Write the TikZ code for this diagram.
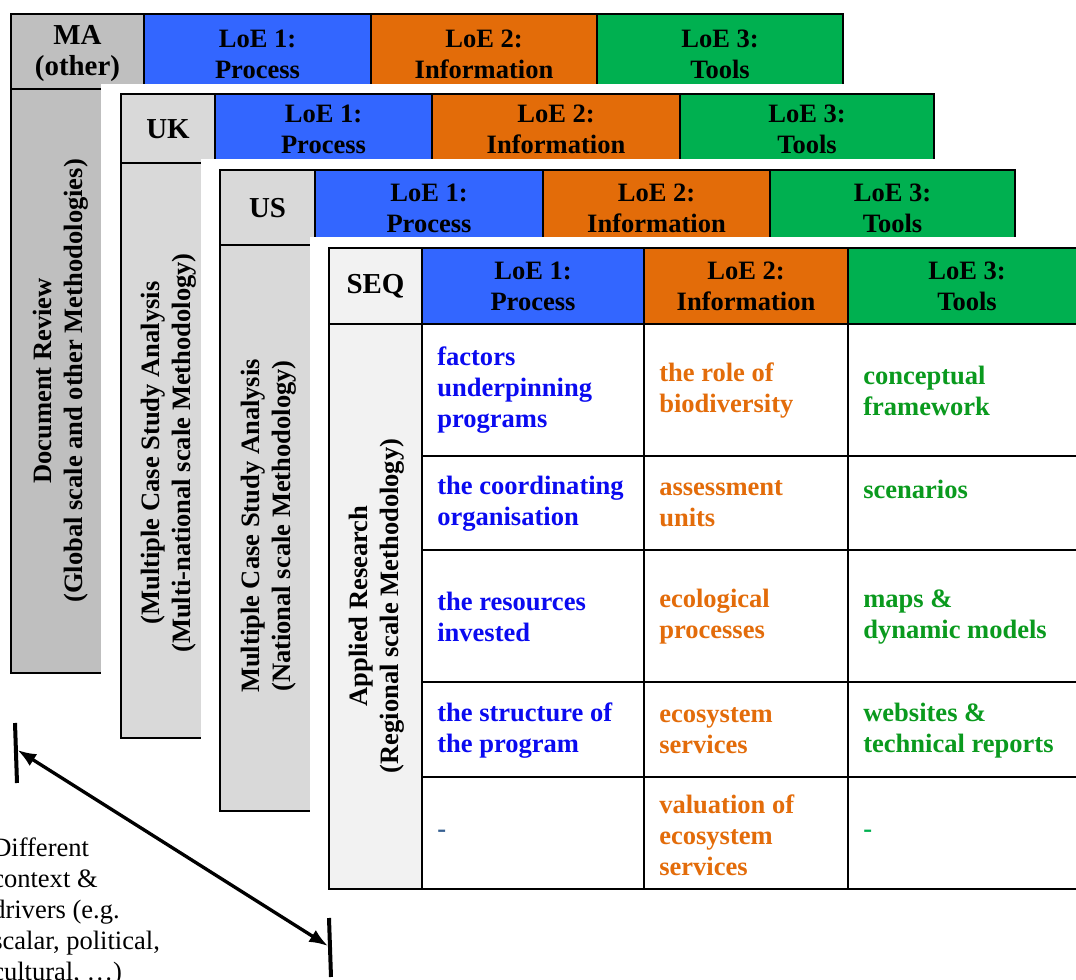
\documentclass[tikz,border=0pt]{standalone}
\usepackage{fontspec}
\setmainfont{Liberation Serif}
\usetikzlibrary{arrows.meta}

\definecolor{hdrblue}{HTML}{3366FF}
\definecolor{hdrorange}{HTML}{E36C09}
\definecolor{hdrgreen}{HTML}{00B050}
\definecolor{grayMA}{HTML}{BFBFBF}
\definecolor{grayMid}{HTML}{D9D9D9}
\definecolor{grayLight}{HTML}{F2F2F2}
\definecolor{txtblue}{HTML}{0A0AF0}
\definecolor{txtorange}{HTML}{E36C0A}
\definecolor{txtgreen}{HTML}{0A9A1E}
\definecolor{dashblue}{HTML}{366092}

\begin{document}
\begin{tikzpicture}[x=0.75pt,y=-0.75pt,
  cell/.style={draw=black, line width=1.5pt},
  backing/.style={fill=white, draw=none},
  lbl/.style={font=\fontsize{19.9pt}{23.25pt}\selectfont\bfseries, align=center, inner sep=0pt},
  key/.style={font=\fontsize{21.7pt}{23.25pt}\selectfont\bfseries, align=center, inner sep=0pt},
  side/.style={lbl, rotate=90},
  entry/.style={font=\fontsize{19.9pt}{23.25pt}\selectfont\bfseries, align=left, inner sep=0pt, anchor=west},
  note/.style={font=\fontsize{19.9pt}{23.25pt}\selectfont, align=left, inner sep=0pt, anchor=west},
  tick/.style={line width=3pt},
  span/.style={line width=2.5pt, {Latex[length=14pt,width=10.5pt]}-{Latex[length=14pt,width=10.5pt]}},
  ]
\useasboundingbox (0,0) rectangle (1076,980);

% ---------- MA (other): global scale ----------
\path[cell, fill=grayMA]    (11,14)  rectangle (144,89);
\path[cell, fill=hdrblue]   (144,14) rectangle (371,89);
\path[cell, fill=hdrorange] (371,14) rectangle (597,89);
\path[cell, fill=hdrgreen]  (597,14) rectangle (843,89);
\path[cell, fill=grayMA]    (11,89)  rectangle (144,673);
\node[key] (maKey) at (77.5,54) {MA\\(other)};
\node[lbl] (maL1) at (257.5,54) {LoE 1:\\Process};
\node[lbl] (maL2) at (484,54) {LoE 2:\\Information};
\node[lbl] (maL3) at (720,54) {LoE 3:\\Tools};
\node[side] (maSide) at (61,381) {Document Review\\(Global scale and other Methodologies)};

% ---------- UK: multi-national scale ----------
\path[backing] (101,84) rectangle (1086,990);
\path[cell, fill=grayMid]   (121,94)  rectangle (215,163);
\path[cell, fill=hdrblue]   (215,94)  rectangle (432,163);
\path[cell, fill=hdrorange] (432,94)  rectangle (680,163);
\path[cell, fill=hdrgreen]  (680,94)  rectangle (934,163);
\path[cell, fill=grayMid]   (121,163) rectangle (215,738);
\node[key] (ukKey) at (168,129) {UK};
\node[lbl] (ukL1) at (323.5,129) {LoE 1:\\Process};
\node[lbl] (ukL2) at (556,129) {LoE 2:\\Information};
\node[lbl] (ukL3) at (807,129) {LoE 3:\\Tools};
\node[side] (ukSide) at (169,453) {(Multiple Case Study Analysis\\(Multi-national scale Methodology)};

% ---------- US: national scale ----------
\path[backing] (201,159) rectangle (1086,990);
\path[cell, fill=grayMid]   (220,170) rectangle (315,245);
\path[cell, fill=hdrblue]   (315,170) rectangle (543,245);
\path[cell, fill=hdrorange] (543,170) rectangle (770,245);
\path[cell, fill=hdrgreen]  (770,170) rectangle (1015,245);
\path[cell, fill=grayMid]   (220,245) rectangle (315,811);
\node[key] (usKey) at (267.5,208) {US};
\node[lbl] (usL1) at (429,208) {LoE 1:\\Process};
\node[lbl] (usL2) at (656.5,208) {LoE 2:\\Information};
\node[lbl] (usL3) at (892.5,208) {LoE 3:\\Tools};
\node[side] (usSide) at (269,526) {Multiple Case Study Analysis\\(National scale Methodology)};

% ---------- SEQ: regional scale ----------
\path[backing] (310,237) rectangle (1086,990);
\path[cell, fill=grayLight] (329,248) rectangle (422,324);
\path[cell, fill=hdrblue]   (422,248) rectangle (644,324);
\path[cell, fill=hdrorange] (644,248) rectangle (848,324);
\path[cell, fill=hdrgreen]  (848,248) rectangle (1090,324);
\path[cell, fill=grayLight] (329,324) rectangle (422,889);
\path[cell] (422,324) rectangle (1090,889);
\foreach \yy in {456,550,682,777} \draw[cell] (422,\yy) -- (1090,\yy);
\foreach \xx in {644,848} \draw[cell] (\xx,324) -- (\xx,889);
\node[key] (seqKey) at (375.5,286) {SEQ};
\node[lbl] (seqL1) at (533,286) {LoE 1:\\Process};
\node[lbl] (seqL2) at (746,286) {LoE 2:\\Information};
\node[lbl] (seqL3) at (967,286) {LoE 3:\\Tools};
\node[side] (seqSide) at (376.5,606) {Applied Research\\(Regional scale Methodology)};

% body: Process column
\node[entry, text=txtblue] (p1) at (437,390) {factors\\underpinning\\programs};
\node[entry, text=txtblue] (p2) at (437,504) {the coordinating\\organisation};
\node[entry, text=txtblue] (p3) at (437,617) {the resources\\invested};
\node[entry, text=txtblue] (p4) at (437,731) {the structure of\\the program};
\node[entry, text=dashblue] (p5) at (437,834) {-};
% body: Information column
\node[entry, text=txtorange] (i1) at (659,391) {the role of\\biodiversity};
\node[entry, text=txtorange] (i2) at (659,504) {assessment\\units};
\node[entry, text=txtorange] (i3) at (659,617) {ecological\\processes};
\node[entry, text=txtorange] (i4) at (659,731) {ecosystem\\services};
\node[entry, text=txtorange] (i5) at (659,835) {valuation of\\ecosystem\\services};
% body: Tools column
\node[entry, text=txtgreen] (t1) at (863,391) {conceptual\\framework};
\node[entry, text=txtgreen] (t2) at (863,489) {scenarios};
\node[entry, text=txtgreen] (t3) at (863,617) {maps \&\\dynamic models};
\node[entry, text=txtgreen] (t4) at (863,731) {websites \&\\technical reports};
\node[entry, text=hdrgreen] (t5) at (863,834) {-};

% ---------- context note and span arrow ----------
\node[note] (context) at (-8,912) {Different\\context \&\\drivers (e.g.\\scalar, political,\\cultural, …)};

\coordinate (tickLtop) at (15,723);
\coordinate (tickLbot) at (17,783);
\coordinate (tickRtop) at (329,918);
\coordinate (tickRbot) at (331,977);
\coordinate (spanL) at (17.5,750);
\coordinate (spanR) at (328,946);
\draw[tick] (tickLtop) -- (tickLbot);
\draw[tick] (tickRtop) -- (tickRbot);
\draw[span] (spanL) -- (spanR);
\end{tikzpicture}
\end{document}
